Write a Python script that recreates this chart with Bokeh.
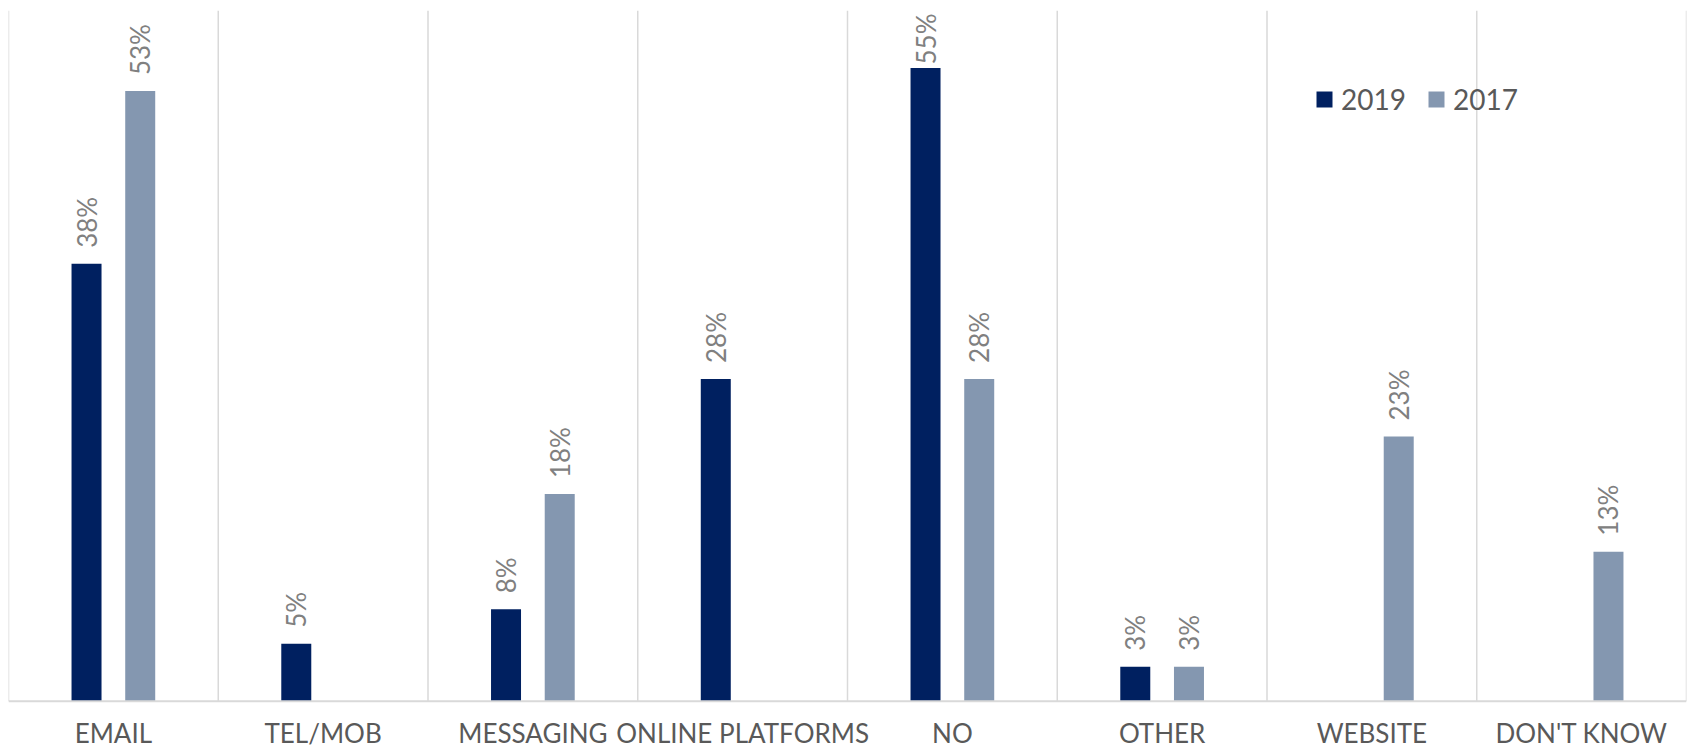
import math
from bokeh.plotting import figure
from bokeh.models import (ColumnDataSource, FactorRange, Range1d, Span, LabelSet,
                          Legend, LegendItem)
from bokeh.core.properties import value
from bokeh.transform import dodge
from bokeh.embed import file_html
from bokeh.resources import INLINE

categories = ["EMAIL", "TEL/MOB", "MESSAGING", "ONLINE PLATFORMS", "NO",
              "OTHER", "WEBSITE", "DON'T KNOW"]
series_names = ["2019", "2017"]
values_2019 = [38, 5, 8, 28, 55, 3, None, None]
values_2017 = [53, None, 18, None, 28, 3, 23, 13]
colors = ["#002060", "#8497B0"]

FONT = "Lato"
Y_MAX = 60
Y_MIN = -4.27          # room below the baseline for the category labels
PX_PER_UNIT = 740 / (Y_MAX - Y_MIN)

p = figure(x_range=FactorRange(factors=categories, range_padding=0),
           y_range=Range1d(Y_MIN, Y_MAX),
           width=1688, height=750, output_backend="svg", toolbar_location=None,
           min_border_left=8, min_border_right=2, min_border_top=10,
           min_border_bottom=0)
p.outline_line_color = None
p.background_fill_color = "white"
p.border_fill_color = "white"
p.xgrid.grid_line_color = None
p.ygrid.grid_line_color = None
p.yaxis.visible = False
p.xaxis.visible = False

# category separators (stop at the baseline) and baseline
n = len(categories)
p.segment(x0=list(range(n + 1)), y0=[0] * (n + 1), x1=list(range(n + 1)),
          y1=[Y_MAX] * (n + 1), line_color="#d9d9d9", line_width=1.5)
p.add_layout(Span(location=0, dimension="width", line_color="#d9d9d9", line_width=2))

# category labels under the baseline
cat_src = ColumnDataSource(dict(cat=categories, y=[0] * n))
p.add_layout(LabelSet(x="cat", y="y", text="cat", source=cat_src,
                      text_align="center", text_baseline="alphabetic", y_offset=-42,
                      text_font=value(FONT), text_font_size=value("26px"),
                      text_color="#595959"))

offsets = [-0.128, 0.128]
renderers = []
for name, vals, col, off in zip(series_names, [values_2019, values_2017], colors, offsets):
    cats = [c for c, v in zip(categories, vals) if v is not None]
    vs = [v for v in vals if v is not None]
    # keep labels inside the plot area (as the original does for the tallest bar)
    yoff = [min(16, (Y_MAX - v) * PX_PER_UNIT - 54) for v in vs]
    src = ColumnDataSource(dict(cat=cats, val=vs, lab=[f"{v}%" for v in vs], yoff=yoff))
    r = p.vbar(x=dodge("cat", off, range=p.x_range), top="val", width=0.143,
               source=src, fill_color=col, line_color=None)
    renderers.append(r)
    p.add_layout(LabelSet(x=dodge("cat", off, range=p.x_range), y="val", text="lab",
                          source=src, angle=math.pi / 2, text_align="left",
                          text_baseline="middle", y_offset="yoff",
                          text_font=value(FONT), text_font_size=value("26px"),
                          text_color="#808080"))

legend = Legend(items=[LegendItem(label=nm, renderers=[r]) for nm, r in zip(series_names, renderers)],
                orientation="horizontal", location=(1306, 634),
                background_fill_alpha=0, border_line_alpha=0,
                label_text_font=FONT, label_text_font_size="28px",
                label_text_color="#595959", glyph_width=20, glyph_height=20,
                label_standoff=7, spacing=20, padding=0, margin=0)
p.add_layout(legend)

open("out.html", "w").write(file_html(p, INLINE))
